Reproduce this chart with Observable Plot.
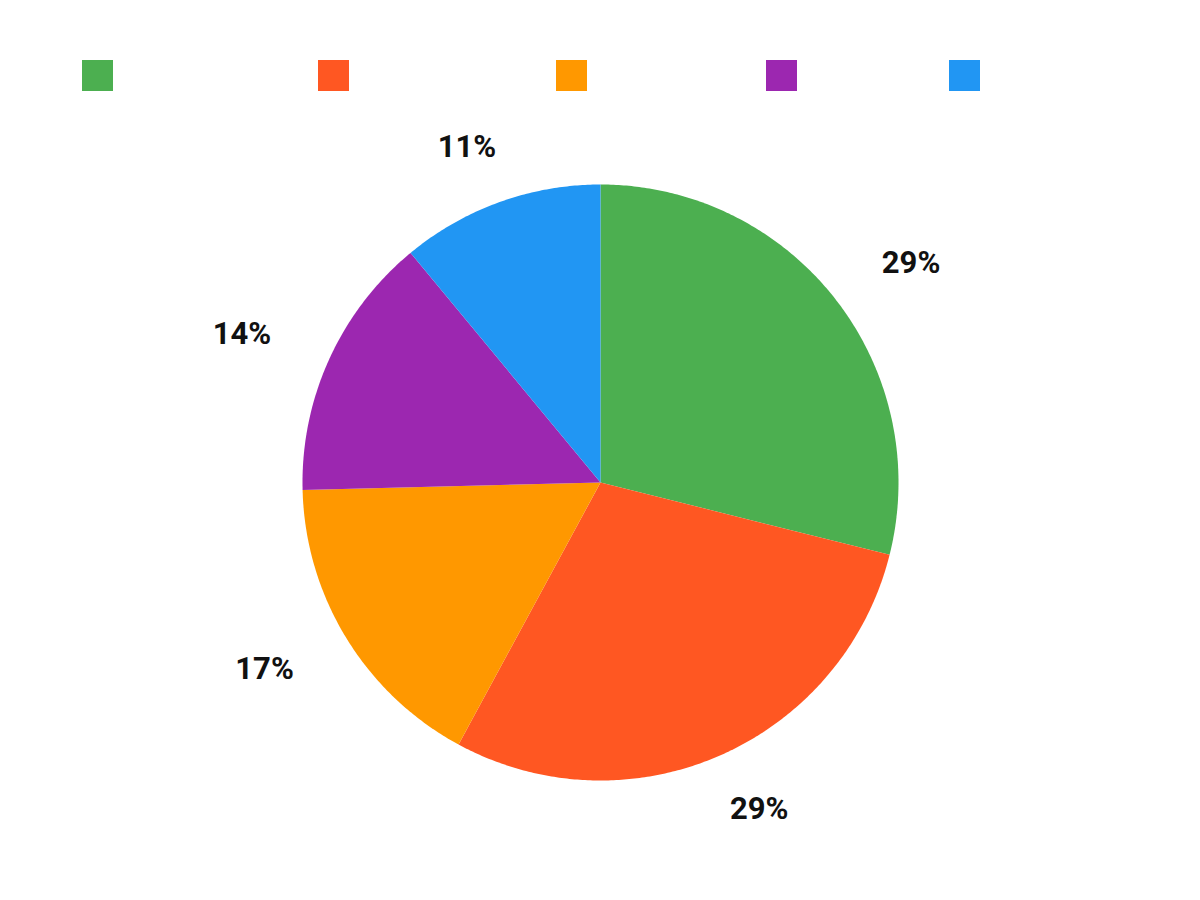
<!DOCTYPE html>
<html>
<head>
<meta charset="utf-8">
<script src="https://cdn.jsdelivr.net/npm/d3@7"></script>
<script src="https://cdn.jsdelivr.net/npm/@observablehq/plot@0.6"></script>
<style>
  html, body { margin: 0; padding: 0; background: #fff; }
  #legend { position: relative; width: 1200px; height: 110px; }
  .sw { position: absolute; top: 60px; width: 31px; height: 31px; }
  #chart svg { display: block; }
</style>
</head>
<body>
<div id="legend"></div>
<div id="chart"></div>
<script>
// Data (clockwise from 12 o'clock)
const categories = ["A", "B", "C", "D", "E"];
const values = [28.9, 29.0, 16.7, 14.4, 11.0];
const colors = ["#4CAF50", "#FF5722", "#FF9800", "#9C27B0", "#2196F3"];
const legendLeft = [82, 318, 556, 766, 949];

// Legend (squares only, as in the reference)
const legend = document.getElementById("legend");
categories.forEach((c, i) => {
  const s = document.createElement("div");
  s.className = "sw";
  s.style.left = legendLeft[i] + "px";
  s.style.background = colors[i];
  s.title = c;
  legend.appendChild(s);
});

// Pie geometry derived from the values
const R = 298;
const labelRX = 394, labelRY = 357;
const total = d3.sum(values);
const wedges = [];
const labels = [];
let acc = 0;
values.forEach((v, i) => {
  const a0 = acc / total * 2 * Math.PI;
  acc += v;
  const a1 = acc / total * 2 * Math.PI;
  wedges.push({name: categories[i], x: 0, y: 0});
  const n = Math.max(2, Math.ceil((a1 - a0) / (Math.PI / 360)));
  for (let k = 0; k <= n; k++) {
    const a = a0 + (a1 - a0) * k / n;
    wedges.push({name: categories[i], x: R * Math.sin(a), y: -R * Math.cos(a)});
  }
  const am = (a0 + a1) / 2;
  labels.push({name: categories[i], x: labelRX * Math.sin(am), y: -labelRY * Math.cos(am), text: Math.round(v / total * 100) + "%"});
});

const chart = Plot.plot({
  width: 1200,
  height: 790,
  margin: 0,
  x: {domain: [-600, 600], range: [0, 1200], axis: null},
  y: {domain: [-372, 418], range: [0, 790], axis: null},
  color: {domain: categories, range: colors},
  style: {fontFamily: "Roboto, 'Noto Sans', sans-serif", background: "#fff"},
  marks: [
    Plot.line(wedges, {x: "x", y: "y", z: "name", fill: "name", stroke: "none", curve: "linear-closed"}),
    Plot.text(labels, {x: "x", y: "y", text: "text", fontSize: 31, fontWeight: "bold", fill: "#111", textAnchor: "middle", lineAnchor: "middle"})
  ]
});
document.getElementById("chart").appendChild(chart);
</script>
</body>
</html>
